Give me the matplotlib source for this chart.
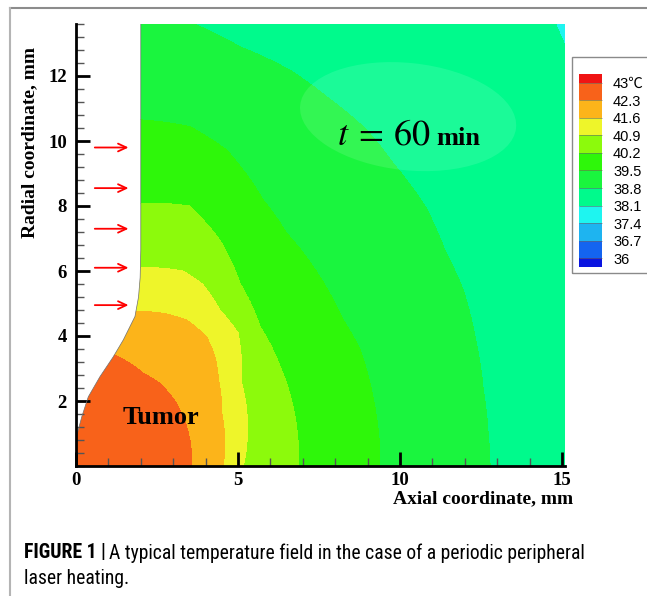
import numpy as np
import matplotlib
matplotlib.use("Agg")
import matplotlib.pyplot as plt
from matplotlib.colors import ListedColormap, BoundaryNorm
from matplotlib.patches import Polygon, Ellipse, Rectangle
from matplotlib.lines import Line2D
from matplotlib.ticker import MultipleLocator, FixedLocator
from matplotlib import font_manager

# ---------------- data ----------------
levels = [36.0, 36.7, 37.4, 38.1, 38.8, 39.5, 40.2, 40.9, 41.6, 42.3, 43.0]
level_labels = ["36", "36.7", "37.4", "38.1", "38.8", "39.5", "40.2",
                "40.9", "41.6", "42.3", "43\u2103"]
band_colors = ["#1464f0", "#1eb4f0", "#1ef5f0", "#00fa8c", "#1af53e",
               "#2ef70a", "#8cfa0c", "#eef52a", "#fcb41a", "#f8621a"]
under_color = "#0a14e0"
over_color = "#f01414"

# left edge of the tissue domain (axial x, radial y), mm
domain_x = [0.0, 0.0, 0.04, 0.18, 0.38, 0.74, 1.15, 1.46, 1.82, 1.93, 1.98, 2.0, 2.0]
domain_y = [0.0, 0.9, 1.0, 1.52, 2.13, 2.75, 3.36, 3.88, 4.6, 5.2, 5.8, 6.65, 13.6]

# isotherms (axial x, radial y), mm
iso_423_x = [3.57, 3.42, 3.10, 2.59, 2.08, 1.27, 0.60, 0.0]
iso_423_y = [0.0, 1.21, 1.93, 2.54, 2.85, 3.38, 3.55, 3.60]
iso_416_x = [4.54, 4.50, 4.40, 4.29, 4.03, 3.42, 2.69, 1.87, 0.0]
iso_416_y = [0.0, 1.62, 2.65, 3.36, 3.98, 4.49, 4.70, 4.75, 4.80]
iso_409_x = [5.16, 5.10, 5.00, 4.44, 3.90, 3.30, 2.00, 0.0]
iso_409_y = [0.0, 2.60, 4.10, 4.80, 5.60, 6.00, 6.10, 6.12]
iso_402_x = [6.86, 6.70, 6.30, 5.68, 5.06, 4.44, 3.50, 2.00, 0.0]
iso_402_y = [0.0, 1.82, 3.06, 4.29, 5.62, 6.95, 8.00, 8.08, 8.10]
iso_395_x = [9.38, 9.18, 8.77, 8.25, 7.94, 7.32, 6.50, 5.78, 4.65, 3.52, 2.00, 0.0]
iso_395_y = [0.0, 2.03, 3.57, 4.49, 5.10, 6.13, 7.16, 8.18, 9.72, 10.44, 10.65, 10.70]
iso_388_x = [12.78, 12.72, 12.57, 12.35, 11.95, 11.40, 10.80, 9.79, 8.97, 7.74, 6.60, 5.06, 3.72, 0.0]
iso_388_y = [0.0, 1.00, 2.34, 3.80, 5.42, 6.60, 7.95, 9.31, 10.34, 11.36, 12.18, 12.90, 13.57, 14.30]
iso_381_x = [17.0, 15.56, 15.10, 14.80, 12.71, 0.0]
iso_381_y = [0.0, 10.90, 12.90, 13.60, 14.12, 15.0]
iso_temps = [42.3, 41.6, 40.9, 40.2, 39.5, 38.8, 38.1]
center_temp = 42.9
far_temp = 37.6
far_radius = 40.0

# faint light oval seen in the upper right (centre, width, height), mm
oval_center = (10.25, 10.75)
oval_size = (6.7, 3.3)

x_ticks = [0, 5, 10, 15]
y_ticks = [2, 4, 6, 8, 10, 12]
x_minor_step = 1.0
y_minor_step = 0.4
x_max = 15.1
y_max = 13.6

arrow_y = [9.8, 8.55, 7.3, 6.1, 4.95]
arrow_x_start = 0.58
arrow_x_end = 1.62

caption_bold = "FIGURE 1 |"
caption_line1 = "A typical temperature field in the case of a periodic peripheral"
caption_line2 = "laser heating."

# ---------------- fonts ----------------
names = {f.name for f in font_manager.fontManager.ttflist}
serif = "Liberation Serif" if "Liberation Serif" in names else "DejaVu Serif"
sans = "Liberation Sans" if "Liberation Sans" in names else "DejaVu Sans"
narrow = sans
for cand in ["Liberation Sans Narrow", "Roboto Condensed", "Open Sans Condensed",
             "Noto Sans Condensed", "DejaVu Sans Condensed"]:
    if cand in names:
        narrow = cand
        break
plt.rcParams["mathtext.fontset"] = "stix"

W, H = 647, 596
fig = plt.figure(figsize=(W / 100, H / 100), dpi=100)

def fx(px):
    return px / W

def fy(py):
    return 1 - py / H

# ---------------- main axes ----------------
ax_l, ax_r, ax_b, ax_t = 76, 76 + x_max * 32.4, 466, 466 - y_max * 32.5
ax = fig.add_axes([fx(ax_l), fy(ax_b), (ax_r - ax_l) / W, (ax_b - ax_t) / H])
ax.set_xlim(0, x_max)
ax.set_ylim(0, y_max)

# build temperature field from the isotherm radii (polar interpolation)
xg = np.linspace(0, 15.3, 766)
yg = np.linspace(0, 13.8, 691)
X, Y = np.meshgrid(xg, yg)
TH = np.degrees(np.arctan2(Y, X))
R = np.hypot(X, Y)
iso_sets = [(iso_423_x, iso_423_y), (iso_416_x, iso_416_y), (iso_409_x, iso_409_y),
            (iso_402_x, iso_402_y), (iso_395_x, iso_395_y), (iso_388_x, iso_388_y),
            (iso_381_x, iso_381_y)]
radii = [np.zeros_like(R)]
temps = [center_temp]
for (ix, iy), t in zip(iso_sets, iso_temps):
    ix = np.asarray(ix); iy = np.asarray(iy)
    th = np.degrees(np.arctan2(iy, ix))
    rr = np.hypot(ix, iy)
    o = np.argsort(th)
    radii.append(np.interp(TH, th[o], rr[o]))
    temps.append(t)
radii.append(np.full_like(R, far_radius))
temps.append(far_temp)
Rs = np.stack(radii)
Tv = np.array(temps)
idx = np.clip((R[None] >= Rs).sum(0) - 1, 0, len(Tv) - 2)
r0 = np.take_along_axis(Rs, idx[None], 0)[0]
r1 = np.take_along_axis(Rs, (idx + 1)[None], 0)[0]
T = Tv[idx] + (R - r0) / (r1 - r0) * (Tv[idx + 1] - Tv[idx])

cmap = ListedColormap(band_colors)
cmap.set_under(under_color)
cmap.set_over(over_color)
norm = BoundaryNorm(levels, cmap.N)

dom = Polygon(np.column_stack([domain_x + [15.3, 15.3], domain_y + [13.8, 0.0]]),
              closed=True, transform=ax.transData)
cs = ax.contourf(X, Y, T, levels=levels, cmap=cmap, norm=norm, extend="both",
                 antialiased=False)
cs.set_clip_path(dom)

ov = Ellipse(oval_center, oval_size[0], oval_size[1], angle=-6,
             facecolor="white", alpha=0.11, edgecolor="none")
ax.add_patch(ov)

ax.plot(domain_x, domain_y, color="#707070", lw=0.5)

# arrows
for ya in arrow_y:
    ax.annotate("", xy=(arrow_x_end, ya), xytext=(arrow_x_start, ya),
                arrowprops=dict(arrowstyle="->,head_length=0.6,head_width=0.28",
                                color="red", lw=1.3, shrinkA=0, shrinkB=0))

# spines & ticks
for s in ["top", "right"]:
    ax.spines[s].set_visible(False)
for s in ["left", "bottom"]:
    ax.spines[s].set_linewidth(2)
    ax.spines[s].set_color("black")
ax.xaxis.set_major_locator(FixedLocator(x_ticks))
ax.yaxis.set_major_locator(FixedLocator(y_ticks))
ax.xaxis.set_minor_locator(MultipleLocator(x_minor_step))
ax.yaxis.set_minor_locator(MultipleLocator(y_minor_step))
ax.tick_params(which="major", direction="in", length=10, width=2, color="black",
               labelsize=13.5)
ax.tick_params(which="minor", direction="in", length=6, width=1, color="#555555")
ax.tick_params(axis="x", which="major", pad=4)
ax.tick_params(axis="y", which="major", pad=6.5)
for lbl in ax.get_xticklabels() + ax.get_yticklabels():
    lbl.set_fontfamily(serif)
    lbl.set_fontweight("bold")

ax.text(2.61, 1.48, "Tumor", ha="center", va="center", fontsize=19,
        fontweight="bold", family=serif, zorder=5)
t_txt = ax.text(8.05, 9.88, r"$t\:=\:60$", fontsize=26, ha="left", va="baseline",
                zorder=5)

# axis labels
fig.text(fx(483), fy(499), "Axial coordinate, mm", ha="center", va="center",
         fontsize=14, fontweight="bold", family=serif)
fig.text(fx(30), fy(142), "Radial coordinate, mm", ha="center", va="center",
         rotation=90, fontsize=14, fontweight="bold", family=serif)

# ---------------- legend (colour scale) ----------------
fig.add_artist(Rectangle((fx(572), fy(273)), (W + 5 - 572) / W, (273 - 57) / H,
                         transform=fig.transFigure, fill=False,
                         edgecolor="#8a8a8a", lw=1.0))
cax = fig.add_axes([fx(579), fy(267), 23 / W, (267 - 74) / H])
cb = fig.colorbar(cs, cax=cax, extend="both", extendrect=True, extendfrac=0.05,
                  drawedges=True, ticks=levels)
cb.outline.set_visible(False)
cb.dividers.set_color("#666666")
cb.dividers.set_linewidth(0.4)
cb.set_ticklabels(level_labels)
cax.tick_params(length=0, labelsize=10.5, pad=8)
for lbl in cax.get_yticklabels():
    lbl.set_fontfamily([sans, "Noto Sans CJK SC", "DejaVu Sans"])

# ---------------- frame lines ----------------
fig.add_artist(Line2D([fx(10), 1], [fy(8), fy(8)], transform=fig.transFigure,
                      color="#8c8c8c", lw=1.5))
fig.add_artist(Line2D([fx(10), fx(10)], [0, fy(8)], transform=fig.transFigure,
                      color="#b4b4b4", lw=1.5))

# ---------------- caption ----------------
cap_size = 13.0
cap1 = fig.text(fx(24), fy(553), caption_bold, fontsize=cap_size, fontweight="bold",
                family=narrow, va="center", ha="left")
cap2 = fig.text(fx(24), fy(553), caption_line1, fontsize=cap_size, family=narrow,
                va="center", ha="left")
cap3 = fig.text(fx(24), fy(578), caption_line2, fontsize=cap_size, family=narrow,
                va="center", ha="left")

fig.canvas.draw()
rend = fig.canvas.get_renderer()
# fit caption line 1 to the reference width (24 px .. 586 px)
w_total = cap1.get_window_extent(rend).width + 3 + cap2.get_window_extent(rend).width
scale = (586 - 24) / w_total
for c in (cap1, cap2, cap3):
    c.set_fontsize(cap_size * scale)
fig.canvas.draw()
bb2 = cap1.get_window_extent(rend)
cap2.set_x((bb2.x1 + 3) / W)

bb = t_txt.get_window_extent(rend)
xd = ax.transData.inverted().transform((bb.x1 + 5, bb.y0))[0]
ax.text(xd, 9.88, "min", fontsize=19, fontweight="bold", family=serif,
        ha="left", va="baseline", zorder=5)

fig.savefig("out.png", dpi=100)
